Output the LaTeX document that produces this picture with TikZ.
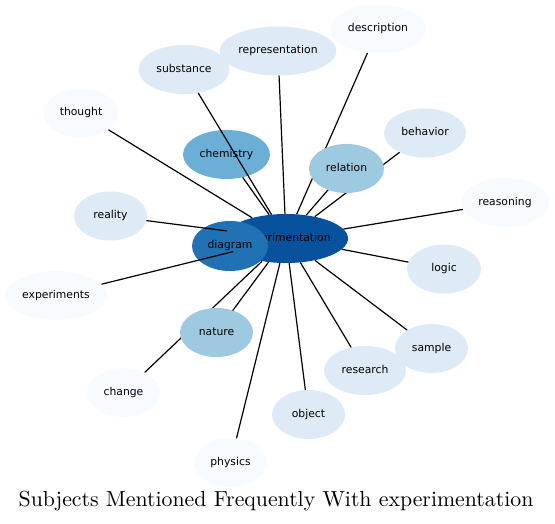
\documentclass[tikz,border=0pt]{standalone}
\usepackage{fontspec}
\newfontfamily\nhanfont{DejaVu Sans}
\usetikzlibrary{shapes.geometric}
\definecolor{xanhA}{HTML}{F7FBFF}
\definecolor{xanhB}{HTML}{DEEBF7}
\definecolor{xanhC}{HTML}{9ECAE1}
\definecolor{xanhD}{HTML}{6BAED6}
\definecolor{xanhE}{HTML}{2171B5}
\definecolor{xanhF}{HTML}{08519C}

\begin{document}
\begin{tikzpicture}[x=0.5pt,y=-0.5pt,line join=round,line cap=round,
	nut/.style={ellipse,draw=none,inner sep=0pt,minimum height=24.5pt,text height=3.9pt,text depth=1.1pt,font=\fontsize{5.4}{6}\nhanfont},
	canh/.style={line width=0.6pt,black}]
	\useasboundingbox (0,0) rectangle (555,523);
	% Nút ngoài
	\node[nut,fill=xanhA,minimum width=37.5pt] (thought) at (81,113) {\makebox[0pt]{thought}};
	\node[nut,fill=xanhB,minimum width=45.5pt] (substance) at (184,69.5) {\makebox[0pt]{substance}};
	\node[nut,fill=xanhB,minimum width=58.5pt] (representation) at (278,51) {\makebox[0pt]{representation}};
	\node[nut,fill=xanhA,minimum width=48pt] (description) at (378,29) {\makebox[0pt]{description}};
	\node[nut,fill=xanhB,minimum width=41pt] (behavior) at (425,133) {\makebox[0pt]{behavior}};
	\node[nut,fill=xanhA,minimum width=44pt] (reasoning) at (505,202.5) {\makebox[0pt]{reasoning}};
	\node[nut,fill=xanhB,minimum width=37pt] (logic) at (444,269) {\makebox[0pt]{logic}};
	\node[nut,fill=xanhD,minimum width=43.5pt] (chemistry) at (226.5,154.5) {\makebox[0pt]{chemistry}};
	\node[nut,fill=xanhB,minimum width=36.5pt] (reality) at (110.5,216) {\makebox[0pt]{reality}};
	\node[nut,fill=xanhA,minimum width=51pt] (experiments) at (56,295.5) {\makebox[0pt]{experiments}};
	\node[nut,fill=xanhA,minimum width=36.5pt] (change) at (123.5,392.5) {\makebox[0pt]{change}};
	\node[nut,fill=xanhB,minimum width=36.5pt] (sample) at (431.5,348.5) {\makebox[0pt]{sample}};
	\node[nut,fill=xanhB,minimum width=41pt] (research) at (365,370.5) {\makebox[0pt]{research}};
	\node[nut,fill=xanhB,minimum width=36.5pt] (object) at (308.5,414.5) {\makebox[0pt]{object}};
	\node[nut,fill=xanhA,minimum width=36.5pt] (physics) at (230.5,462.5) {\makebox[0pt]{physics}};
	% Nút giữa
	\node[nut,fill=xanhF,minimum width=62pt] (expe) at (286,238.5) {\makebox[0pt]{experimentation}};
	\node[nut,fill=xanhE,minimum width=38pt,minimum height=25pt] (diagram) at (230,246) {\makebox[0pt]{diagram}};
	% Cạnh
	\draw[canh] (thought)--(expe) (substance)--(expe) (representation)--(expe) (description)--(expe)
		(behavior)--(expe) (reasoning)--(expe) (logic)--(expe) (chemistry)--(expe)
		(sample)--(expe) (research)--(expe) (object)--(expe) (physics)--(expe) (change)--(expe)
		(reality)--(expe) (experiments)--(expe);
	\draw[canh] (346.5,168.5) coordinate (rel)--(expe) (216.5,332.5) coordinate (nat)--(expe);
	\node[nut,fill=xanhC,minimum width=37.5pt] (relation) at (rel) {\makebox[0pt]{relation}};
	\node[nut,fill=xanhC,minimum width=36.5pt] (nature) at (nat) {\makebox[0pt]{nature}};
	\path (276,501) node[font=\fontsize{10.9}{13}\selectfont] (tieude) {Subjects Mentioned Frequently With experimentation};
\end{tikzpicture}
\end{document}
